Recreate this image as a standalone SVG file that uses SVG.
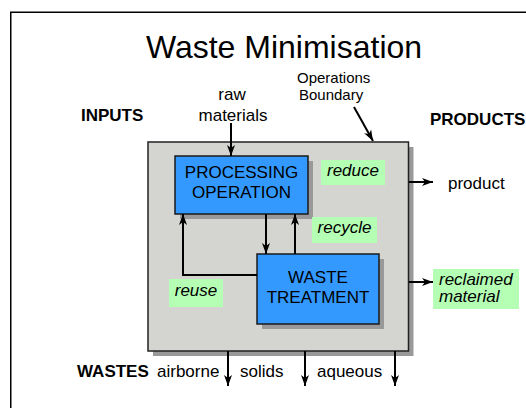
<svg xmlns="http://www.w3.org/2000/svg" width="526" height="408" viewBox="0 0 526 408">
  <defs>
    <marker id="arrow" markerUnits="userSpaceOnUse" markerWidth="12" markerHeight="10" refX="11" refY="5" orient="auto">
      <path d="M0,1 L11,5 L0,9 L3,5 Z" fill="#000"/>
    </marker>
    <style>
      text { font-family: "Liberation Sans", Arial, sans-serif; fill: #000; }
      .title { font-size: 32px; text-anchor: middle; }
      .head { font-size: 17px; font-weight: bold; }
      .lbl { font-size: 17px; }
      .mid { text-anchor: middle; }
      .small { font-size: 15px; }
      .box text { font-size: 17px; text-anchor: middle; }
      .tag text { font-size: 17px; font-style: italic; text-anchor: middle; }
      .tag text.left { text-anchor: start; }
      .tag rect { fill: #b5ffb5; }
      .shadow { fill: #999999; }
      .unit { fill: #3399ff; stroke: #1a1a1a; stroke-width: 1.5; }
      .wire { fill: none; stroke: #000; stroke-width: 2; }
    </style>
  </defs>

  <rect width="526" height="408" fill="#fff"/>
  <!-- page frame -->
  <rect x="10.75" y="12.25" width="530" height="410" fill="none" stroke="#000" stroke-width="1.5"/>

  <text class="title" x="284" y="58">Waste Minimisation</text>
  <text class="head" x="81" y="121">INPUTS</text>
  <text class="head" x="430" y="125">PRODUCTS</text>
  <text class="head" x="77" y="377">WASTES</text>

  <text class="lbl mid" x="232" y="100">raw</text>
  <text class="lbl mid" x="233" y="121">materials</text>
  <text class="small" x="297" y="83">Operations</text>
  <text class="small" x="299" y="100">Boundary</text>
  <text class="lbl" x="448" y="189">product</text>
  <text class="lbl" x="157" y="377">airborne</text>
  <text class="lbl" x="240" y="377">solids</text>
  <text class="lbl" x="317" y="377">aqueous</text>

  <!-- operations boundary -->
  <g id="boundary">
    <rect class="shadow" x="153" y="147" width="260.5" height="209"/>
    <rect x="148" y="142" width="260.5" height="209" fill="#d4d4d1" stroke="#222" stroke-width="1.5"/>
  </g>

  <g id="processing" class="box">
    <rect class="shadow" x="180" y="161" width="133" height="58"/>
    <rect class="unit" x="175" y="156" width="133" height="58"/>
    <text x="241.5" y="178">PROCESSING</text>
    <text x="241.5" y="198">OPERATION</text>
  </g>

  <g id="treatment" class="box">
    <rect class="shadow" x="262" y="259" width="122" height="70"/>
    <rect class="unit" x="257" y="254" width="122" height="70"/>
    <text x="318" y="283">WASTE</text>
    <text x="318" y="303">TREATMENT</text>
  </g>

  <g id="reduce" class="tag">
    <rect x="321" y="160" width="64" height="25"/>
    <text x="353" y="176">reduce</text>
  </g>
  <g id="recycle" class="tag">
    <rect x="312" y="217" width="65" height="26"/>
    <text x="344.5" y="233">recycle</text>
  </g>
  <g id="reuse" class="tag">
    <rect x="169" y="279" width="54" height="28"/>
    <text x="196" y="296">reuse</text>
  </g>
  <g id="reclaimed" class="tag">
    <rect x="433" y="269" width="86" height="40"/>
    <text class="left" x="439" y="285">reclaimed</text>
    <text class="left" x="439" y="302">material</text>
  </g>

  <g id="connectors" class="wire">
    <path d="M231 123 V156" marker-end="url(#arrow)"/>
    <path d="M354 107 L373 141" marker-end="url(#arrow)"/>
    <path d="M266 214 V254" marker-end="url(#arrow)"/>
    <path d="M295 254 V214" marker-end="url(#arrow)"/>
    <path d="M257 275 H183 V214" marker-end="url(#arrow)"/>
    <path d="M409 182 H433" marker-end="url(#arrow)"/>
    <path d="M409 282 H433" marker-end="url(#arrow)"/>
    <path d="M228 351 V386" marker-end="url(#arrow)"/>
    <path d="M305 351 V386" marker-end="url(#arrow)"/>
    <path d="M395 351 V386" marker-end="url(#arrow)"/>
  </g>
</svg>
